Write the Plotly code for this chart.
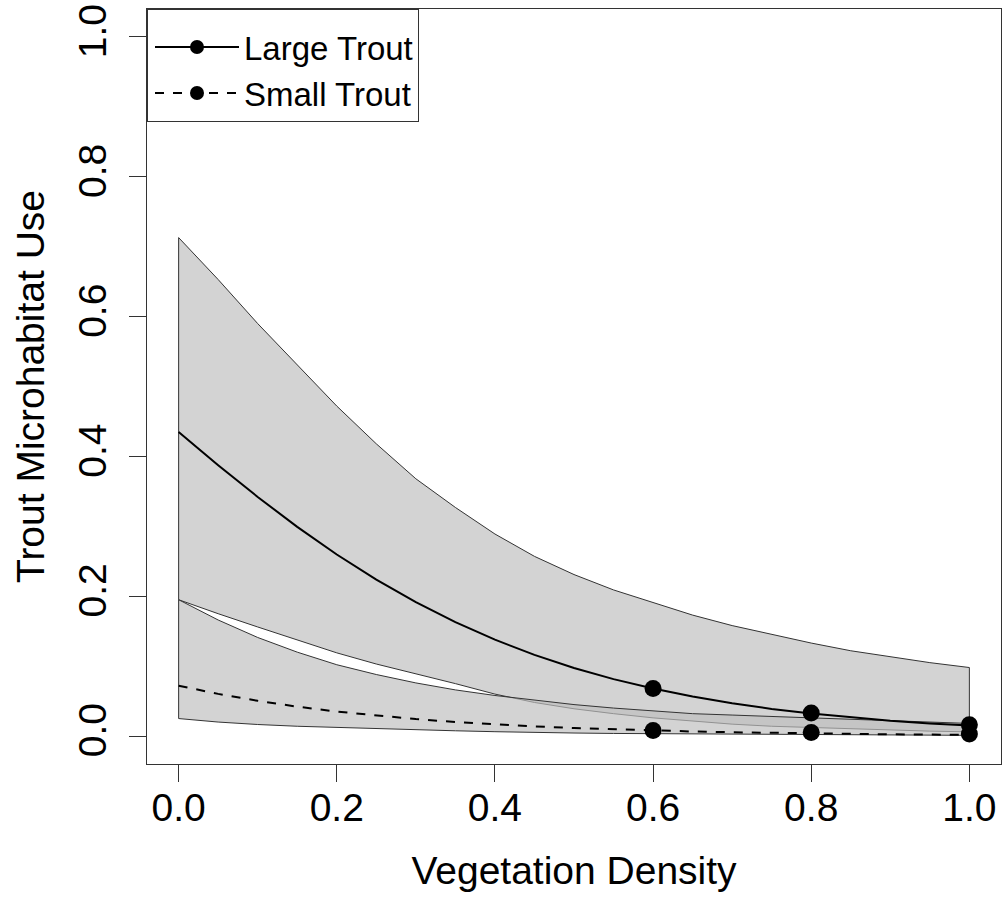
import plotly.graph_objects as go

# ---- data ----
x_grid = [0.0, 0.05, 0.1, 0.15, 0.2, 0.25, 0.3, 0.35, 0.4, 0.45, 0.5,
          0.55, 0.6, 0.65, 0.7, 0.75, 0.8, 0.85, 0.9, 0.95, 1.0]

large_mean = [0.435, 0.3875, 0.342, 0.2992, 0.2597, 0.2238, 0.1915, 0.1629, 0.1378, 0.1161, 0.0974,
              0.0814, 0.0679, 0.0565, 0.0469, 0.0388, 0.0321, 0.0265, 0.0219, 0.0181, 0.0149]
large_upper = [0.713, 0.653, 0.590, 0.531, 0.472, 0.418, 0.368, 0.327, 0.289, 0.257, 0.231,
               0.209, 0.191, 0.173, 0.158, 0.145, 0.133, 0.122, 0.113, 0.105, 0.098]
large_lower = [0.195, 0.175, 0.156, 0.137, 0.119, 0.103, 0.089, 0.075, 0.060, 0.048, 0.039,
               0.032, 0.026, 0.021, 0.017, 0.014, 0.012, 0.010, 0.0085, 0.007, 0.006]

small_mean = [0.0720, 0.0603, 0.0504, 0.0420, 0.0350, 0.0291, 0.0242, 0.0201, 0.0167, 0.0138, 0.0115,
              0.0095, 0.0079, 0.0065, 0.0054, 0.0045, 0.0037, 0.0031, 0.0025, 0.0021, 0.0017]
small_upper = [0.195, 0.166, 0.141, 0.120, 0.102, 0.088, 0.076, 0.066, 0.058, 0.051, 0.045,
               0.040, 0.036, 0.032, 0.030, 0.028, 0.026, 0.024, 0.022, 0.020, 0.018]
small_lower = [0.025, 0.020, 0.0165, 0.014, 0.0125, 0.0108, 0.009, 0.0075, 0.0062, 0.005, 0.0043,
               0.0037, 0.0032, 0.0028, 0.0024, 0.0021, 0.0018, 0.0016, 0.0014, 0.0012, 0.001]

obs_x = [0.6, 0.8, 1.0]
large_obs = [0.068, 0.033, 0.016]
small_obs = [0.008, 0.005, 0.003]

tick_vals = [0.0, 0.2, 0.4, 0.6, 0.8, 1.0]
tick_text = ["0.0", "0.2", "0.4", "0.6", "0.8", "1.0"]

series_names = ["Large Trout", "Small Trout"]

# ---- figure ----
FONT = "Liberation Sans, Arial, sans-serif"
EDGE = "#333333"
FILL = "rgba(190,190,190,0.68)"

fig = go.Figure()


def band(x, upper, lower):
    xs = list(x) + list(x)[::-1] + [x[0]]
    ys = list(upper) + list(lower)[::-1] + [upper[0]]
    return xs, ys


for up, lo in [(large_upper, large_lower), (small_upper, small_lower)]:
    bx, by = band(x_grid, up, lo)
    fig.add_trace(go.Scatter(x=bx, y=by, mode="lines", fill="toself",
                             fillcolor=FILL, line=dict(color=EDGE, width=1),
                             showlegend=False, hoverinfo="skip"))

dashes = ["solid", "9px,9px"]
for name, mean, obs, dash in [(series_names[0], large_mean, large_obs, dashes[0]),
                              (series_names[1], small_mean, small_obs, dashes[1])]:
    fig.add_trace(go.Scatter(x=x_grid, y=mean, mode="lines",
                             line=dict(color="black", width=2, dash=dash),
                             showlegend=False))
    fig.add_trace(go.Scatter(x=obs_x, y=obs, mode="markers",
                             marker=dict(color="black", size=17),
                             showlegend=False))
    fig.add_trace(go.Scatter(x=[None], y=[None], mode="lines+markers", name=name,
                             line=dict(color="black", width=2, dash=dash),
                             marker=dict(color="black", size=14)))

axis_common = dict(
    range=[-0.04, 1.04], tickvals=tick_vals, ticktext=tick_text,
    ticks="outside", ticklen=17, tickwidth=1, tickcolor=EDGE,
    showline=True, linecolor=EDGE, linewidth=1, mirror=True,
    showgrid=False, zeroline=False, automargin=False,
    ticklabeloverflow="allow",
    tickfont=dict(family=FONT, size=39, color="black"),
)

fig.update_layout(
    width=1003, height=899,
    margin=dict(l=147, r=2, t=9, b=135),
    plot_bgcolor="white", paper_bgcolor="white",
    font=dict(family=FONT, color="black"),
    xaxis=dict(**axis_common, ticklabelstandoff=-8,
               title=dict(text="Vegetation Density", font=dict(family=FONT, size=39), standoff=28)),
    yaxis=dict(**axis_common, tickangle=-90, ticklabelstandoff=7,
               title=dict(text="Trout Microhabitat Use", font=dict(family=FONT, size=39), standoff=14)),
    legend=dict(x=0, y=1, xanchor="left", yanchor="top",
                bordercolor=EDGE, borderwidth=1, bgcolor="white",
                itemwidth=84, indentation=2,
                title=dict(text=" ", font=dict(family=FONT, size=7)),
                font=dict(family=FONT, size=33), tracegroupgap=0),
    showlegend=True,
)

# remove the page's default body margin so the figure fills the window exactly
fig.write_html("out.html", config={"displayModeBar": False},
               post_script="document.body.style.margin='0px';")
